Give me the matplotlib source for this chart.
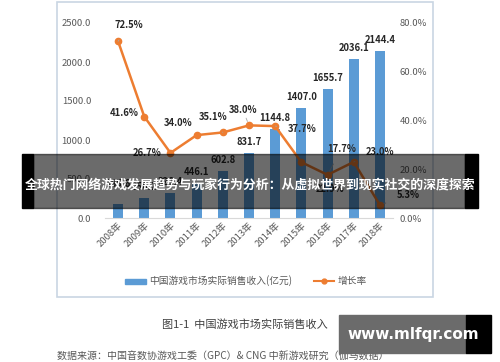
import matplotlib
matplotlib.use("Agg")
import matplotlib.pyplot as plt
from matplotlib.patches import Rectangle
from matplotlib.lines import Line2D

plt.rcParams['font.family'] = ['Noto Sans CJK SC', 'DejaVu Sans']

years = ["2008年", "2009年", "2010年", "2011年", "2012年", "2013年", "2014年",
         "2015年", "2016年", "2017年", "2018年"]
revenue = [185.6, 256.2, 326.4, 446.1, 602.8, 831.7, 1144.8, 1407.0, 1655.7, 2036.1, 2144.4]
growth = [72.5, 41.6, 26.7, 34.0, 35.1, 38.0, 37.7, 22.9, 17.7, 23.0, 5.3]
left_ticks = [0, 500, 1000, 1500, 2000, 2500]
right_ticks = [0, 20, 40, 60, 80]
series_names = ["中国游戏市场实际销售收入(亿元)", "增长率"]
caption = "图1-1  中国游戏市场实际销售收入"
source = "数据来源：中国音数协游戏工委（GPC）& CNG 中新游戏研究（伽马数据）"
banner = "全球热门网络游戏发展趋势与玩家行为分析：从虚拟世界到现实社交的深度探索"
watermark = "www.mlfqr.com"

W, H = 500, 362
fig = plt.figure(figsize=(W / 100, H / 100), dpi=100)
fig.patch.set_facecolor("white")

def fx(x):
    return x / W

def fy(y):
    return (H - y) / H

BLUE = "#5B9BD5"
ORANGE = "#ED7D31"
GREY = "#595959"

# chart frame
fig.patches.append(Rectangle((fx(57), fy(297)), fx(433) - fx(57), fy(2) - fy(297),
                             transform=fig.transFigure, fill=False,
                             edgecolor="#C9D6E3", linewidth=1.2))

ax = fig.add_axes([fx(105), fy(218), fx(393) - fx(105), fy(23) - fy(218)])
x = list(range(len(years)))
ax.bar(x, revenue, width=0.38, color=BLUE, zorder=2)
ax.set_xlim(-0.5, len(years) - 0.5)
ax.set_ylim(0, 2500)
ax.set_yticks(left_ticks)
ax.set_yticklabels([f"{v:.1f}" for v in left_ticks])
for s in ["top", "right", "left"]:
    ax.spines[s].set_visible(False)
ax.spines["bottom"].set_color("#D9D9D9")
ax.tick_params(axis="y", length=0, labelsize=6.8, labelcolor=GREY, pad=10)
ax.tick_params(axis="x", length=0, labelsize=6.8, labelcolor=GREY, pad=2)
ax.set_xticks(x)
ax.set_xticklabels(years, rotation=45, ha="right", rotation_mode="anchor")

for i, v in enumerate(revenue):
    off = 20 if i == 0 else 11
    ax.annotate(f"{v:.1f}", (i, v), xytext=(0, off), textcoords="offset pixels",
                ha="center", va="center", fontsize=6.8, fontweight="bold",
                color="#262626", zorder=5)

ax2 = ax.twinx()
ax2.set_ylim(0, 80)
ax2.set_yticks(right_ticks)
ax2.set_yticklabels([f"{v:.1f}%" for v in right_ticks])
for s in ["top", "right", "left", "bottom"]:
    ax2.spines[s].set_visible(False)
ax2.tick_params(axis="y", length=0, labelsize=6.8, labelcolor=GREY, pad=5)
ax2.plot(x, growth, color=ORANGE, linewidth=1.8, marker="o", markersize=4.5, zorder=3)

# growth labels: (dx, dy) offsets in pixels from point, leader flag
offs = [(11, 16, True), (-20, 4, False), (-23, 0, False), (-19, 12, False),
        (-10, 15, True), (-6, 15, True), (27, -3, True), (29, -27, False),
        (14, 26, True), (26, 10, True), (28, 10, True)]
for i, g in enumerate(growth):
    dx, dy, lead = offs[i]
    ax2.annotate(f"{g:.1f}%", (i, g), xytext=(dx, dy), textcoords="offset pixels",
                 ha="center", va="center", fontsize=6.8, fontweight="bold",
                 color="#262626", zorder=5,
                 arrowprops=dict(arrowstyle="-", color="#A6A6A6", lw=0.6,
                                 shrinkA=6, shrinkB=3) if lead else None)

# legend
fig.patches.append(Rectangle((fx(125), fy(283.5)), fx(146) - fx(125), fy(278.5) - fy(283.5),
                             transform=fig.transFigure, color=BLUE))
fig.text(fx(149), fy(281), series_names[0], fontsize=7, color=GREY, va="center", ha="left")
fig.lines.append(Line2D([fx(314), fx(334)], [fy(281), fy(281)], transform=fig.transFigure,
                        color=ORANGE, linewidth=1.5, marker=None))
fig.lines.append(Line2D([fx(324)], [fy(281)], transform=fig.transFigure,
                        color=ORANGE, marker="o", markersize=3.5))
fig.text(fx(338), fy(281), series_names[1], fontsize=7, color=GREY, va="center", ha="left")

# captions
fig.text(fx(245), fy(325), caption, fontsize=8, color="#404040", ha="center", va="center")
fig.text(fx(57), fy(356), source, fontsize=7.2, color="#595959", ha="left", va="center")

# banner overlay
fig.patches.append(Rectangle((fx(33), fy(208)), fx(465) - fx(33), fy(154) - fy(208),
                             transform=fig.transFigure, color="black", alpha=0.58, zorder=10))
for a, b in [(22, 33), (465, 478)]:
    fig.patches.append(Rectangle((fx(a), fy(208)), fx(b) - fx(a), fy(154) - fy(208),
                                 transform=fig.transFigure, color="black", zorder=10))
fig.text(fx(250), fy(185), banner, fontsize=9.3, fontweight="bold", color="white",
         ha="center", va="center", zorder=11)

# watermark
fig.patches.append(Rectangle((fx(339), fy(353)), fx(466) - fx(339), fy(315) - fy(353),
                             transform=fig.transFigure, color="#6B6B6B", zorder=10))
fig.patches.append(Rectangle((fx(466), fy(353)), fx(491) - fx(466), fy(315) - fy(353),
                             transform=fig.transFigure, color="black", zorder=10))
fig.text(fx(413), fy(335), watermark, fontsize=11, fontweight="bold", color="white",
         family="DejaVu Sans", ha="center", va="center", zorder=11)

fig.savefig("out.png", dpi=100)
